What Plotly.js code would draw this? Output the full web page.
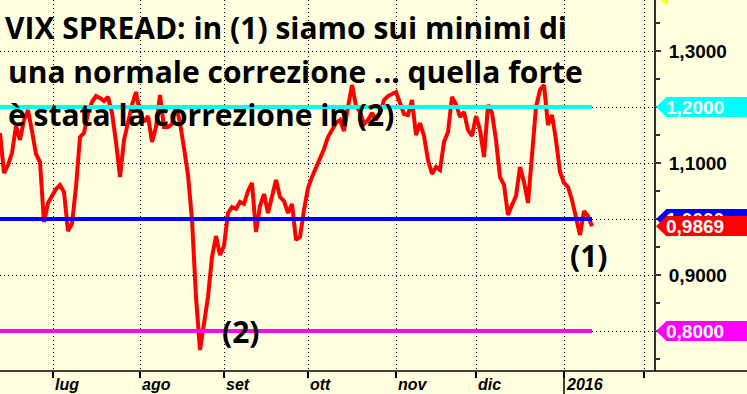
<!DOCTYPE html>
<html><head><meta charset="utf-8">
<script src="https://cdn.plot.ly/plotly-3.0.1.min.js"></script>
<style>html,body{margin:0;padding:0;background:#FFFFE0;}#chart{width:747px;height:394px;}</style>
</head><body><div id="chart"></div>
<script>
// VIX spread, one value per trading day (Jun 2015 - Jan 2016)
const vixSpread = [
1.1536,1.0821,1.0964,1.1179,1.1661,1.1411,1.1768,1.1946,1.1571,1.1161,
1.1018,0.9946,1.0286,1.0429,1.0536,1.0607,1.0482,0.9786,0.9911,1.0571,
1.1464,1.1536,1.1893,1.2089,1.2196,1.2161,1.2107,1.2179,1.1893,1.1375,
1.0750,1.1411,1.1732,1.2036,1.2268,1.1893,1.1732,1.1839,1.1375,1.1643,
1.2214,1.1643,1.1643,1.1696,1.2018,1.1714,1.1268,1.0786,0.9982,0.8607,
0.7661,0.8196,0.8607,0.9321,0.9696,0.9357,0.9518,1.0107,1.0214,1.0179,
1.0304,1.0268,1.0500,1.0643,0.9768,1.0232,1.0446,1.0107,1.0393,1.0696,
1.0393,1.0321,1.0107,1.0268,0.9625,0.9679,1.0161,1.0554,1.0750,1.0911,
1.1054,1.1250,1.1464,1.1589,1.1714,1.1768,1.1571,1.2000,1.2393,1.2018,
1.1911,1.1696,1.1768,1.1893,1.1768,1.1893,1.2125,1.2196,1.2232,1.2268,
1.2071,1.1875,1.1857,1.2125,1.1500,1.1714,1.1482,1.1054,1.0804,1.0929,
1.0875,1.1375,1.1554,1.2179,1.2054,1.1821,1.1911,1.1589,1.1482,1.1839,
1.1589,1.1107,1.2036,1.1893,1.1411,1.0750,1.0607,1.0071,1.0250,1.0411,
1.0929,1.0661,1.0286,1.1054,1.2000,1.2304,1.2393,1.1679,1.1857,1.1411,
1.0839,1.0643,1.0571,1.0339,0.9982,0.9714,1.0143,1.0054,0.9869
];
const levelValues = [1.2, 1.0, 0.8];
const levelColors = ['#00FFFF', '#0000FF', '#FF00FF'];
const tagLevels = [1.4, 1.2, 1.0];
const tagLevelColors = ['#FFFF00', '#00FFFF', '#0000FF'];
const bottomTagLevels = [0.8];
const bottomTagColors = ['#FF00FF'];
const lastTagColor = '#FF0000';
const monthTickIdx = [13.25, 35, 56, 77, 99, 119, 141, 161];
const monthLabels = ['lug', 'ago', 'set', 'ott', 'nov', 'dic', '2016', ''];
const yTickVals = [0.8, 0.9, 1.0, 1.1, 1.2, 1.3];
const yTickText = ['', '0,9000', '', '1,1000', '', '1,3000'];
const titleLines = [
  'VIX SPREAD: in (1) siamo sui minimi di',
  'una normale correzione ... quella forte',
  'è stata la correzione in (2)'
];
const markLabels = ['(2)', '(1)'];
const markIdx = [55, 142];
const markVals = [0.80, 0.934];

const W = 654, H = 371;
const bg = '#FFFFE0';
const dayIdx = vixSpread.map((_, i) => i);
const lastIdx = dayIdx[dayIdx.length - 1];
const lastVal = vixSpread[vixSpread.length - 1];
const fmt = v => v.toFixed(4).replace('.', ',');
const px = x => x / W;
const py = y => 1 - y / H;

const traces = [{
  x: dayIdx, y: vixSpread, type: 'scatter', mode: 'lines',
  line: {color: '#FF0000', width: 4}, hoverinfo: 'skip', showlegend: false
}];
levelValues.forEach((lv, i) => {
  traces.push({
    x: [dayIdx[0], lastIdx], y: [lv, lv], type: 'scatter', mode: 'lines',
    line: {color: levelColors[i], width: 4}, hoverinfo: 'skip', showlegend: false
  });
});

const shapes = [];
const annotations = [];
function addTag(val, color) {
  shapes.push({
    type: 'path', xref: 'paper', yref: 'y', xsizemode: 'pixel', ysizemode: 'pixel',
    xanchor: 1, yanchor: val,
    path: 'M 2,0 L 12.5,10 L 14,10 L 14,-10 L 12.5,-10 Z',
    fillcolor: color, line: {width: 0}, layer: 'above'
  });
  annotations.push({
    xref: 'paper', yref: 'y', x: 1, y: val, xanchor: 'left', yanchor: 'middle',
    xshift: 12, yshift: 0, showarrow: false, text: fmt(val),
    width: 90, height: 20, align: 'left', valign: 'middle',
    bgcolor: color, borderpad: 0, borderwidth: 0,
    font: {family: 'Liberation Sans, Arial, sans-serif', size: 19, weight: 'bold', color: '#FFFFFF'}
  });
}
tagLevels.forEach((v, i) => addTag(v, tagLevelColors[i]));
addTag(lastVal, lastTagColor);
bottomTagLevels.forEach((v, i) => addTag(v, bottomTagColors[i]));

// x-axis base line across the full width, and the year separator
shapes.push({type: 'line', xref: 'paper', yref: 'paper', x0: 0, x1: 747 / W, y0: 0, y1: 0,
  line: {color: '#000000', width: 1.5}, layer: 'above'});
shapes.push({type: 'line', xref: 'x', yref: 'paper', x0: monthTickIdx[6], x1: monthTickIdx[6], y0: 0, y1: -23 / H,
  line: {color: '#000000', width: 1.5}, layer: 'above'});

monthLabels.forEach((t, i) => {
  if (!t) return;
  annotations.push({
    xref: 'x', yref: 'paper', x: monthTickIdx[i], y: py(384), xanchor: 'left', yanchor: 'middle',
    xshift: 0, showarrow: false, text: t,
    font: {family: 'Liberation Sans, Arial, sans-serif', size: 16, weight: 'bold', style: 'italic', color: '#000000'}
  });
});

const titleFont = {family: 'Open Sans, sans-serif', size: 30, weight: 'bold', color: '#000000'};
const titleY = [28, 71, 114];
const titleX = [3, 6, 6];
titleLines.forEach((t, i) => {
  annotations.push({xref: 'paper', yref: 'paper', x: px(titleX[i]), y: py(titleY[i]),
    xanchor: 'left', yanchor: 'middle', showarrow: false, text: t, font: titleFont});
});
markLabels.forEach((t, i) => {
  annotations.push({xref: 'x', yref: 'y', x: markIdx[i], y: markVals[i],
    xanchor: 'left', yanchor: 'middle', showarrow: false, text: t, font: titleFont});
});

const layout = {
  width: 747, height: 394,
  margin: {l: 0, r: 93, t: 0, b: 23, pad: 0},
  paper_bgcolor: bg, plot_bgcolor: bg,
  showlegend: false,
  xaxis: {
    range: [0, W / 4], tickmode: 'array', tickvals: monthTickIdx, showticklabels: false,
    ticks: 'outside', ticklen: 6, tickwidth: 1.5, tickcolor: '#000000',
    showgrid: true, gridcolor: '#000000', gridwidth: 1, griddash: '1px,3px',
    zeroline: false, showline: false, fixedrange: true
  },
  yaxis: {
    side: 'right', range: [1 - 152 / 560, 1 + 219 / 560],
    tickmode: 'array', tickvals: yTickVals, ticktext: yTickText,
    ticks: 'outside', ticklen: 5, tickwidth: 1.5, tickcolor: '#333333',
    minor: {tick0: 0.75, dtick: 0.05, ticks: 'outside', ticklen: 4, tickwidth: 1.5, tickcolor: '#333333', showgrid: false},
    tickfont: {family: 'Liberation Sans, Arial, sans-serif', size: 19, weight: 'bold', color: '#000000'},
    ticklabelstandoff: 4,
    showgrid: true, gridcolor: '#000000', gridwidth: 1, griddash: '1px,3px',
    showline: true, linecolor: '#333333', linewidth: 2,
    zeroline: false, fixedrange: true, automargin: false
  },
  shapes: shapes, annotations: annotations
};
Plotly.newPlot('chart', traces, layout, {displayModeBar: false, staticPlot: true});
</script></body></html>
